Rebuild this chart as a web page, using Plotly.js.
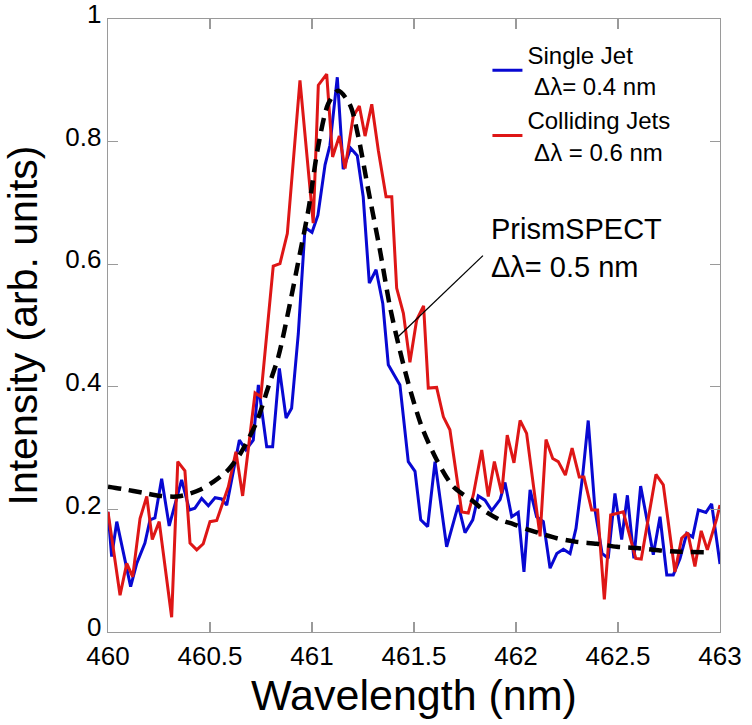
<!DOCTYPE html>
<html>
<head>
<meta charset="utf-8">
<script src="https://cdn.plot.ly/plotly-3.0.1.min.js"></script>
<style>html,body{margin:0;padding:0;background:#fff}#chart{width:752px;height:725px}</style>
</head>
<body>
<div id="chart"></div>
<script>
// Single Jet (blue)
const singleX = [460.000,460.018,460.043,460.111,460.141,460.181,460.206,460.230,460.263,460.300,460.361,460.399,460.426,460.459,460.492,460.525,460.557,460.582,460.644,460.676,460.712,460.737,460.778,460.807,460.840,460.873,460.900,460.933,460.966,461.000,461.029,461.064,461.088,461.124,461.153,461.190,461.222,461.251,461.281,461.314,461.347,461.374,461.431,461.472,461.505,461.533,461.567,461.603,461.660,461.717,461.750,461.788,461.815,461.848,461.881,461.922,461.946,461.979,462.011,462.039,462.069,462.101,462.134,462.167,462.200,462.232,462.265,462.294,462.327,462.354,462.387,462.422,462.452,462.485,462.518,462.546,462.578,462.611,462.641,462.673,462.706,462.739,462.771,462.804,462.837,462.866,462.894,462.931,462.959,463.000];
const singleY = [0.196,0.123,0.180,0.074,0.112,0.145,0.183,0.186,0.250,0.173,0.248,0.199,0.202,0.218,0.206,0.219,0.217,0.207,0.313,0.297,0.313,0.403,0.302,0.302,0.430,0.349,0.365,0.487,0.660,0.652,0.680,0.762,0.794,0.905,0.755,0.789,0.777,0.710,0.569,0.591,0.536,0.436,0.403,0.278,0.262,0.183,0.172,0.278,0.139,0.207,0.162,0.183,0.222,0.215,0.198,0.216,0.244,0.188,0.195,0.098,0.232,0.188,0.180,0.104,0.128,0.135,0.128,0.169,0.256,0.345,0.200,0.128,0.120,0.226,0.151,0.223,0.120,0.238,0.185,0.126,0.188,0.093,0.093,0.120,0.161,0.155,0.199,0.195,0.209,0.111];

// Colliding Jets (red)
const collideX = [460.000,460.059,460.092,460.121,460.157,460.190,460.217,460.251,460.312,460.342,460.377,460.402,460.435,460.467,460.500,460.533,460.562,460.590,460.627,460.660,460.721,460.749,460.810,460.843,460.879,460.941,461.006,461.031,461.072,461.101,461.134,461.162,461.202,461.232,461.260,461.293,461.325,461.363,461.391,461.415,461.448,461.480,461.513,461.547,461.570,461.611,461.644,461.676,461.734,461.766,461.791,461.832,461.864,461.894,461.930,461.957,461.990,462.020,462.052,462.118,462.147,462.180,462.207,462.242,462.275,462.310,462.333,462.371,462.400,462.433,462.464,462.494,462.526,462.587,462.614,462.686,462.722,462.779,462.812,462.842,462.877,462.908,462.938,462.984,463.000];
const collideY = [0.196,0.060,0.112,0.090,0.185,0.221,0.151,0.180,0.024,0.278,0.263,0.145,0.134,0.144,0.180,0.182,0.210,0.237,0.294,0.222,0.390,0.384,0.597,0.601,0.650,0.900,0.667,0.892,0.910,0.775,0.809,0.756,0.841,0.858,0.809,0.861,0.786,0.710,0.710,0.561,0.520,0.440,0.509,0.532,0.398,0.399,0.351,0.330,0.196,0.194,0.224,0.297,0.221,0.278,0.226,0.321,0.276,0.345,0.324,0.156,0.314,0.283,0.278,0.256,0.300,0.253,0.253,0.199,0.199,0.053,0.191,0.194,0.196,0.120,0.119,0.257,0.240,0.098,0.153,0.162,0.107,0.165,0.134,0.185,0.207];

// PrismSPECT simulation (dashed)
const prismX = [460.000,460.075,460.173,460.255,460.337,460.394,460.451,460.516,460.582,460.647,460.729,460.786,460.835,460.892,460.941,460.982,461.029,461.080,461.129,461.186,461.227,461.276,461.333,461.382,461.423,461.472,461.538,461.611,461.693,461.791,461.840,461.922,461.987,462.052,462.118,462.200,462.297,462.396,462.494,462.592,462.706,462.804,462.961];
const prismY = [0.237,0.233,0.227,0.222,0.221,0.225,0.232,0.245,0.262,0.290,0.343,0.400,0.449,0.536,0.618,0.688,0.790,0.862,0.883,0.860,0.808,0.721,0.623,0.531,0.470,0.406,0.335,0.281,0.237,0.213,0.199,0.183,0.176,0.168,0.161,0.153,0.147,0.144,0.139,0.137,0.133,0.131,0.130];

const xTicks = [460, 460.5, 461, 461.5, 462, 462.5, 463];
const yTicks = [0, 0.2, 0.4, 0.6, 0.8, 1];

const FONT = 'Liberation Sans, Arial, Helvetica, sans-serif';

const traces = [
  {x: singleX, y: singleY, mode: 'lines', name: 'Single Jet<br> Δλ= 0.4 nm',
   line: {color: 'rgb(8,8,210)', width: 3}},
  {x: collideX, y: collideY, mode: 'lines', name: 'Colliding Jets<br> Δλ = 0.6 nm',
   line: {color: 'rgb(222,22,22)', width: 3}},
  {x: prismX, y: prismY, mode: 'lines', name: 'PrismSPECT', showlegend: false,
   line: {color: '#000', width: 4.5, dash: '13px,8px', shape: 'spline', smoothing: 0.8}}
];

const axisCommon = {
  showgrid: false, zeroline: false, showline: true, mirror: 'ticks',
  linecolor: '#9a9a9a', linewidth: 1.3, ticks: 'inside', ticklen: 10,
  tickcolor: '#9a9a9a', tickwidth: 1.3,
  tickfont: {family: FONT, size: 26, color: '#000'}
};

const layout = {
  width: 752, height: 725,
  margin: {l: 108, r: 32, t: 19, b: 93},
  paper_bgcolor: '#fff', plot_bgcolor: '#fff',
  showlegend: true,
  legend: {x: 0.62, y: 0.978, xanchor: 'left', yanchor: 'top', bgcolor: 'rgba(0,0,0,0)',
           font: {family: FONT, size: 24, color: '#000'}, tracegroupgap: 0},
  xaxis: Object.assign({}, axisCommon, {
    range: [460, 463], tickvals: xTicks, ticktext: xTicks.map(String),
    ticklabelstandoff: 0, ticklabeloverflow: 'allow',
    title: {text: 'Wavelength (nm)', font: {family: FONT, size: 43, color: '#000'}, standoff: 10}
  }),
  yaxis: Object.assign({}, axisCommon, {
    range: [0, 1], tickvals: yTicks, ticktext: yTicks.map(String),
    ticklabelshift: -5, ticklabeloverflow: 'allow',
    title: {text: 'Intensity (arb. units)', font: {family: FONT, size: 41, color: '#000'}, standoff: 16}
  }),
  annotations: [
    {x: 461.868, y: 0.626, xref: 'x', yref: 'y', xanchor: 'left', yanchor: 'middle', align: 'left',
     text: 'PrismSPECT<br>Δλ= 0.5 nm', showarrow: false,
     font: {family: FONT, size: 29, color: '#000'}}
  ],
  shapes: [
    {type: 'line', xref: 'x', yref: 'y', x0: 461.417, y0: 0.480, x1: 461.838, y1: 0.614,
     line: {color: '#000', width: 1.3}}
  ]
};

Plotly.newPlot('chart', traces, layout, {displayModeBar: false, staticPlot: true});
</script>
</body>
</html>
